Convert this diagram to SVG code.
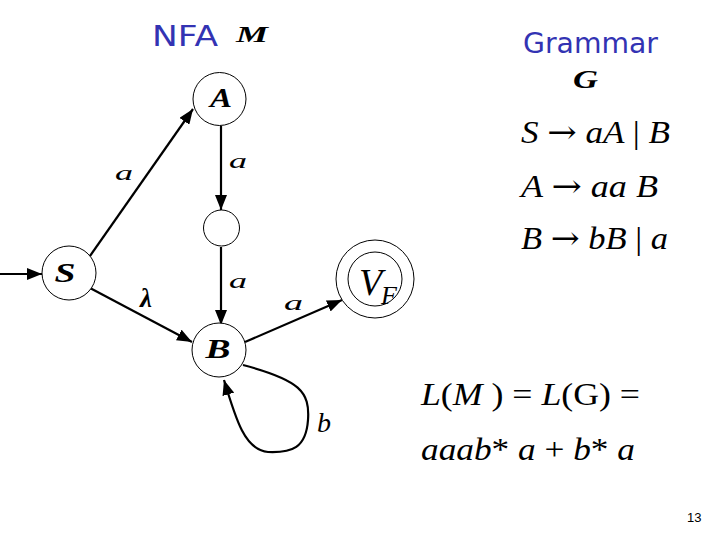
<svg xmlns="http://www.w3.org/2000/svg" width="720" height="540" viewBox="0 0 720 540">
<style>
.node{fill:#fff;stroke:#000;stroke-width:1}
.edge{fill:none;stroke:#000;stroke-width:2.2}
.lbl{font-family:"Liberation Serif",serif;font-style:italic;fill:#000}
.nl{font-family:"Liberation Serif",serif;font-style:italic;font-weight:bold;font-size:28px;fill:#000;text-anchor:middle}
.title{font-family:"Comic Sans MS","DejaVu Sans","Liberation Sans",sans-serif;fill:#3333b3;font-size:28px}
.math{font-family:"Liberation Serif",serif;font-size:32px;fill:#000}
.arr{font-family:"DejaVu Serif",serif;font-style:normal}
</style>
<defs>
<marker id="ah" markerUnits="userSpaceOnUse" markerWidth="16" markerHeight="12" refX="15" refY="6" orient="auto">
<path d="M0,0 L15,6 L0,12 Z" fill="#000"/>
</marker>
</defs>
<rect width="720" height="540" fill="#fff"/>
<text class="title" x="152" y="46" textLength="66" lengthAdjust="spacingAndGlyphs">NFA</text>
<text x="236" y="42" font-family="Liberation Serif,serif" font-style="italic" font-weight="bold" font-size="24" textLength="32" lengthAdjust="spacingAndGlyphs">M</text>
<text class="title" x="523" y="53" textLength="135" lengthAdjust="spacingAndGlyphs">Grammar</text>
<text x="573" y="88" font-family="Liberation Serif,serif" font-style="italic" font-weight="bold" font-size="25" textLength="25" lengthAdjust="spacingAndGlyphs">G</text>
<g id="connectors">
<line class="edge" x1="0" y1="274" x2="42" y2="274" marker-end="url(#ah)"/>
<line class="edge" x1="90" y1="256" x2="193" y2="109" marker-end="url(#ah)"/>
<line class="edge" x1="221" y1="126" x2="221" y2="210" marker-end="url(#ah)"/>
<line class="edge" x1="221" y1="247" x2="221" y2="325" marker-end="url(#ah)"/>
<line class="edge" x1="90" y1="288" x2="192" y2="342" marker-end="url(#ah)"/>
<line class="edge" x1="245" y1="342" x2="342" y2="300" marker-end="url(#ah)"/>
<path class="edge" d="M243 365 C300 380 310 392 308 420 C306 448 292 453 268 452 C245 450 236 420 224 380" marker-end="url(#ah)"/>
<text class="lbl" x="115" y="180" font-size="20" textLength="18" lengthAdjust="spacingAndGlyphs">a</text>
<text class="lbl" x="229" y="168" font-size="20" textLength="18" lengthAdjust="spacingAndGlyphs">a</text>
<text class="lbl" x="229" y="288" font-size="20" textLength="18" lengthAdjust="spacingAndGlyphs">a</text>
<text class="lbl" x="284" y="310" font-size="20" textLength="19" lengthAdjust="spacingAndGlyphs">a</text>
<text class="lbl" x="140" y="307" font-size="27" font-weight="bold">λ</text>
<text class="lbl" x="317" y="432" font-size="28">b</text>
</g>
<g id="node-A"><circle class="node" cx="219.5" cy="99" r="26.5"/><text class="nl" x="221" y="107" textLength="22" lengthAdjust="spacingAndGlyphs">A</text></g>
<g id="node-mid"><circle class="node" cx="221.5" cy="228" r="18"/></g>
<g id="node-S"><circle class="node" cx="69" cy="273" r="27"/><text class="nl" x="65" y="282" font-size="30" textLength="21" lengthAdjust="spacingAndGlyphs">S</text></g>
<g id="node-B"><circle class="node" cx="219" cy="350" r="27"/><text class="nl" x="218" y="358" textLength="25" lengthAdjust="spacingAndGlyphs">B</text></g>
<g id="node-VF"><circle class="node" cx="375" cy="279" r="39"/><circle class="node" cx="375" cy="279" r="27"/>
<text x="359" y="295" font-family="Liberation Serif,serif" font-style="italic" font-size="38">V</text>
<text x="381" y="304" font-family="Liberation Serif,serif" font-style="italic" font-size="26">F</text></g>
<g id="grammar" class="math" font-style="italic">
<text x="521" y="143" textLength="149" lengthAdjust="spacingAndGlyphs">S <tspan class="arr">→</tspan> aA <tspan font-style="normal">|</tspan> B</text>
<text x="521" y="197" textLength="137" lengthAdjust="spacingAndGlyphs">A <tspan class="arr">→</tspan> aa B</text>
<text x="521" y="249" textLength="147" lengthAdjust="spacingAndGlyphs">B <tspan class="arr">→</tspan> bB <tspan font-style="normal">|</tspan> a</text>
</g>
<g id="language" class="math">
<text x="421" y="405" textLength="219" lengthAdjust="spacingAndGlyphs"><tspan font-style="italic">L</tspan>(<tspan font-style="italic">M</tspan> ) = <tspan font-style="italic">L</tspan>(G) =</text>
<text x="421" y="460" textLength="214" lengthAdjust="spacingAndGlyphs" font-style="italic">aaab<tspan font-style="normal">*</tspan> a <tspan font-style="normal">+</tspan> b<tspan font-style="normal">*</tspan> a</text>
</g>
<text x="687" y="522" font-family="Liberation Sans,sans-serif" font-size="13">13</text>
</svg>
